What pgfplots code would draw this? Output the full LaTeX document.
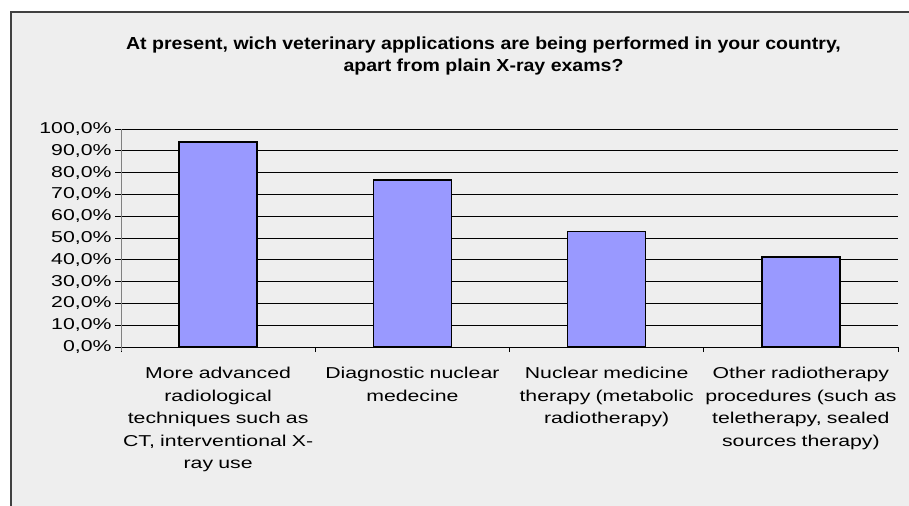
\documentclass[border=0pt]{standalone}
\usepackage{pgfplots}
\pgfplotsset{compat=1.18}
\usepackage{fontspec}
\setmainfont{Liberation Sans}
\newfontfamily\labfont[FakeStretch=1.35]{Liberation Sans}
\newfontfamily\titfont[FakeStretch=1.12]{Liberation Sans}
\definecolor{bgc}{HTML}{EEEEEE}
\definecolor{framec}{HTML}{404040}
\definecolor{barc}{HTML}{9999FF}
\begin{document}
\begin{tikzpicture}[x=1bp,y=1bp]
\useasboundingbox (0,0) rectangle (909,-506);
\fill[white] (0,0) rectangle (909,-506);
\fill[bgc] (11,-12) rectangle (909,-506);
\draw[framec, line width=1.3bp] (11,-506) -- (11,-12) -- (909,-12);
\node[font=\titfont\bfseries\fontsize{17.5}{22}\selectfont, anchor=base, inner sep=0pt] at (483.5,-50) {At present, wich veterinary applications are being performed in your country,};
\node[font=\titfont\bfseries\fontsize{17.5}{22}\selectfont, anchor=base, inner sep=0pt] at (483.5,-72) {apart from plain X-ray exams?};
\begin{axis}[
  at={(121bp,-347bp)}, anchor=south west,
  width=777bp, height=218bp, scale only axis,
  xmin=-0.5, xmax=3.5, ymin=0, ymax=100,
  ybar, bar width=78bp,
  axis line style={draw=none},
  ymajorgrids, grid style={black, line width=0.9bp},
  tick align=outside,
  xtick pos=bottom, ytick pos=left,
  ytick={0,10,...,100},
  yticklabels={{0,0\%},{10,0\%},{20,0\%},{30,0\%},{40,0\%},{50,0\%},{60,0\%},{70,0\%},{80,0\%},{90,0\%},{100,0\%}},
  ytick style={black, line width=0.9bp},
  y tick label style={font=\labfont\fontsize{15.8}{17}\selectfont, anchor=east},
  major tick length=6bp,
  xtick={0,1,2,3},
  x tick style={draw=none},
  xticklabels={{More advanced\\radiological\\techniques such as\\CT, interventional X-\\ray use},{Diagnostic nuclear\\medecine},{Nuclear medicine\\therapy (metabolic\\radiotherapy)},{Other radiotherapy\\procedures (such as\\teletherapy, sealed\\sources therapy)}},
  x tick label style={font=\labfont\fontsize{15.8}{22.5}\selectfont, align=center, text width=194bp, anchor=north, yshift=-11bp},
  extra x ticks={-0.5,0.5,1.5,2.5,3.5},
  extra x tick labels={},
  extra x tick style={grid=none, major tick length=5bp, x tick style={draw=black, line width=0.9bp}},
  clip=false,
]
\addplot[fill=barc, draw=black, line width=1.5bp] coordinates {(0,94.1) (1,76.5) (2,52.9) (3,41.2)};
\draw[gray, line width=1bp] (axis cs:-0.5,100) -- ([yshift=-4bp]axis cs:-0.5,0);
\end{axis}
\end{tikzpicture}
\end{document}
